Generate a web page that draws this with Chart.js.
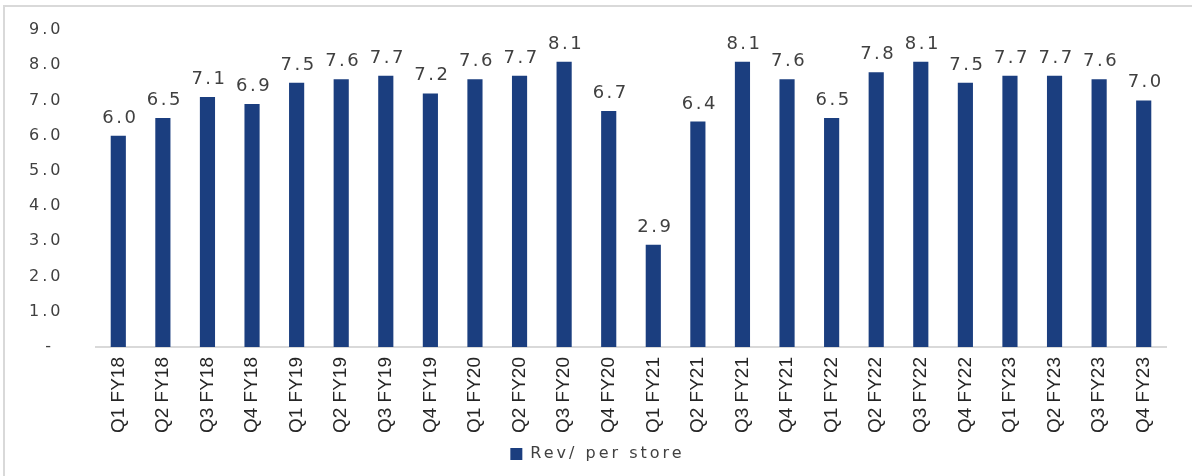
<!DOCTYPE html>
<html lang="en">
<head>
    <meta charset="UTF-8" />
    <title>Rev per store</title>
    <script src="https://cdn.jsdelivr.net/npm/chart.js"></script>
    <style>
        body { margin: 0; background: #fff; }
    </style>
</head>
<body>
    <canvas id="revChart" width="1192" height="476"></canvas>

    <script>
        const quarters = ["Q1 FY18", "Q2 FY18", "Q3 FY18", "Q4 FY18", "Q1 FY19", "Q2 FY19", "Q3 FY19", "Q4 FY19",
            "Q1 FY20", "Q2 FY20", "Q3 FY20", "Q4 FY20", "Q1 FY21", "Q2 FY21", "Q3 FY21", "Q4 FY21",
            "Q1 FY22", "Q2 FY22", "Q3 FY22", "Q4 FY22", "Q1 FY23", "Q2 FY23", "Q3 FY23", "Q4 FY23"];
        const revPerStore = [6.0, 6.5, 7.1, 6.9, 7.5, 7.6, 7.7, 7.2, 7.6, 7.7, 8.1, 6.7,
            2.9, 6.4, 8.1, 7.6, 6.5, 7.8, 8.1, 7.5, 7.7, 7.7, 7.6, 7.0];
        const yTicks = [0, 1, 2, 3, 4, 5, 6, 7, 8, 9];

        // text in the picture is wide, so space it out a bit
        function spaceOut(obj, method, spacing) {
            if (obj[method + "_orig"]) return;
            const orig = obj[method].bind(obj);
            obj[method + "_orig"] = orig;
            obj[method] = function (...args) {
                const c = this.ctx;
                c.save();
                c.letterSpacing = spacing;
                const res = orig(...args);
                c.restore();
                return res;
            };
        }

        const frameAndLabels = {
            id: "frameAndLabels",
            beforeLayout(chart) {
                if (chart.legend) {
                    spaceOut(chart.legend, "fit", "3px");
                    spaceOut(chart.legend, "draw", "3px");
                }
            },
            afterLayout(chart) {
                spaceOut(chart.scales.y, "drawLabels", "3px");
            },
            beforeDraw(chart) {
                const ctx = chart.ctx;
                ctx.save();
                ctx.strokeStyle = "#d9d9d9";
                ctx.lineWidth = 2;
                ctx.strokeRect(4, 6, 1300, 600);
                ctx.restore();
            },
            afterDatasetsDraw(chart) {
                const ctx = chart.ctx;
                const meta = chart.getDatasetMeta(0);
                ctx.save();
                ctx.font = '18px "DejaVu Sans"';
                ctx.fillStyle = "#404040";
                ctx.textAlign = "center";
                ctx.textBaseline = "alphabetic";
                ctx.letterSpacing = "2.5px";
                meta.data.forEach((bar, i) => {
                    ctx.fillText(revPerStore[i].toFixed(1), bar.x + 2, bar.y - 13);
                });
                ctx.restore();
            }
        };

        new Chart(document.getElementById("revChart"), {
            type: "bar",
            data: {
                labels: quarters,
                datasets: [{
                    label: "Rev/ per store",
                    data: revPerStore,
                    backgroundColor: "#1b3e7f",
                    barPercentage: 0.34,
                    categoryPercentage: 1.0
                }]
            },
            options: {
                responsive: false,
                animation: false,
                layout: {
                    padding: { top: 30, right: 26, bottom: 4, left: 29 }
                },
                scales: {
                    x: {
                        grid: { display: false, drawTicks: false },
                        border: { color: "#d9d9d9", width: 2 },
                        ticks: {
                            minRotation: 90,
                            maxRotation: 90,
                            padding: 10,
                            color: "#262626",
                            font: { family: "'Liberation Sans', Arial, sans-serif", size: 19 }
                        },
                        afterFit(scale) { scale.height = 89; }
                    },
                    y: {
                        min: 0,
                        max: 9,
                        grid: { display: false, drawTicks: false },
                        border: { display: false },
                        afterBuildTicks(scale) {
                            scale.ticks = yTicks.map(v => ({ value: v }));
                        },
                        ticks: {
                            padding: 4,
                            crossAlign: "far",
                            color: "#404040",
                            font: { family: "DejaVu Sans", size: 16 },
                            callback: v => v === 0 ? "  -" : v.toFixed(1)
                        },
                        afterFit(scale) { scale.width = 67; }
                    }
                },
                plugins: {
                    legend: {
                        position: "bottom",
                        labels: {
                            boxWidth: 12,
                            boxHeight: 12,
                            padding: 10,
                            color: "#404040",
                            font: { family: "DejaVu Sans", size: 16 }
                        }
                    },
                    tooltip: { enabled: false }
                }
            },
            plugins: [frameAndLabels]
        });
    </script>
</body>
</html>
